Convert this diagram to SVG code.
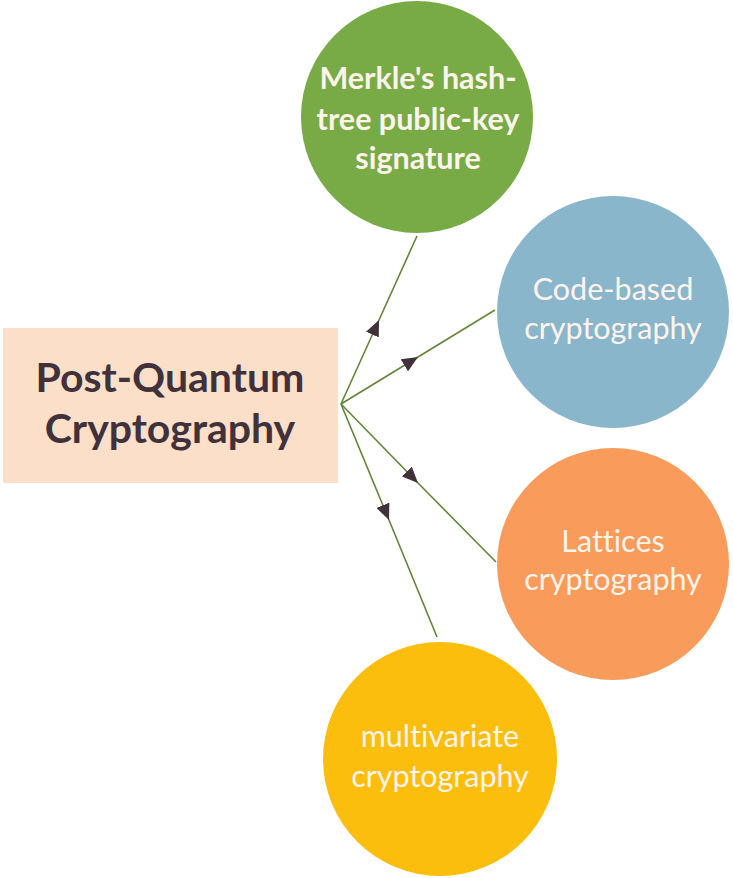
<svg xmlns="http://www.w3.org/2000/svg" width="733" height="878" viewBox="0 0 733 878">
<style>
.ct{font-family:Lato,"Liberation Sans",sans-serif;font-size:30.5px;fill:#FFF4EC;text-anchor:middle;font-variant-ligatures:none}
.mt{font-family:Lato,"Liberation Sans",sans-serif;font-size:41px;font-weight:bold;fill:#40313A;text-anchor:middle}
.conn{fill:none;stroke:#62853A;stroke-width:1.6;marker-mid:url(#arr)}
</style>
<defs>
<marker id="arr" viewBox="0 0 16 14" refX="16" refY="7" markerWidth="16" markerHeight="14" markerUnits="userSpaceOnUse" orient="auto">
<path d="M0,0 L16,7 L0,14 Z" fill="#40313A"/>
</marker>
</defs>
<rect width="733" height="878" fill="#FFFFFF"/>
<g id="connectors">
<path class="conn" d="M341,404 L379,320 L417,236"/>
<path class="conn" d="M341,404 L418,357 L495,310"/>
<path class="conn" d="M341,404 L418,483 L496,562"/>
<path class="conn" d="M341,404 L389,520 L437,637"/>
</g>
<g id="node-pqc">
<rect x="3" y="328" width="335" height="155" fill="#FBDFC8"/>
<text class="mt" x="170" y="392">Post-Quantum</text>
<text class="mt" x="170" y="443">Cryptography</text>
</g>
<g id="node-merkle">
<circle cx="417" cy="117" r="116" fill="#78AB46"/>
<text class="ct" font-weight="bold" font-size="30" x="418" y="89">Merkle's hash-</text>
<text class="ct" font-weight="bold" font-size="30" x="418" y="130">tree public-key</text>
<text class="ct" font-weight="bold" font-size="30" x="418" y="169">signature</text>
</g>
<g id="node-code">
<circle cx="613" cy="312" r="116" fill="#8AB6CB"/>
<text class="ct" x="613" y="300">Code-based</text>
<text class="ct" x="613" y="339">cryptography</text>
</g>
<g id="node-lattices">
<circle cx="613" cy="564" r="116" fill="#F99B5B"/>
<text class="ct" x="613" y="552">Lattices</text>
<text class="ct" x="613" y="590">cryptography</text>
</g>
<g id="node-multivariate">
<circle cx="440" cy="759" r="117" fill="#FBBE0C"/>
<text class="ct" x="440" y="747" fill="#F8E6DC">multivariate</text>
<text class="ct" x="440" y="787" fill="#F8E6DC">cryptography</text>
</g>
</svg>
